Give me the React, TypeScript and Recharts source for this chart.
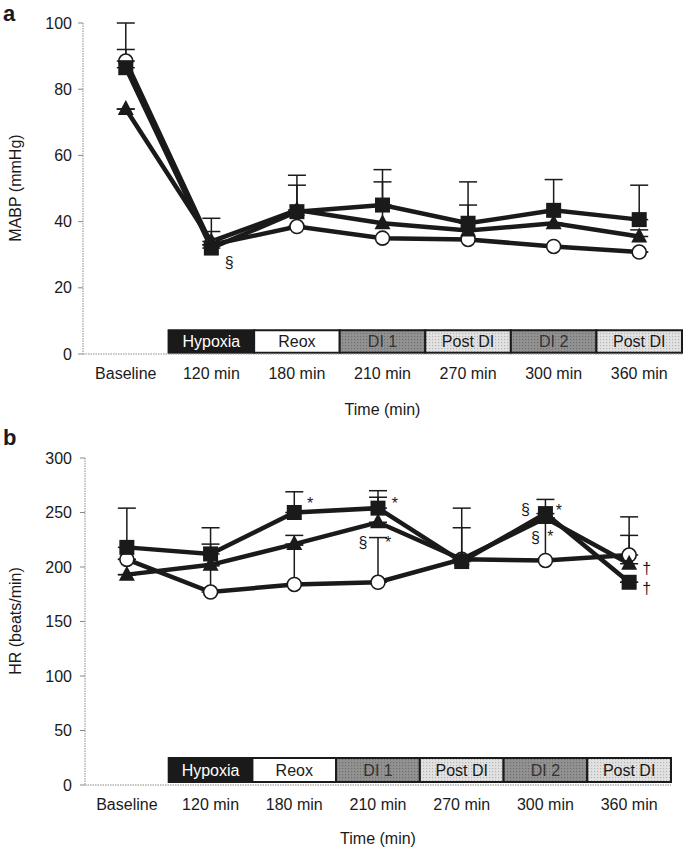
import React from 'react';
import { ComposedChart, Line, XAxis, YAxis, ErrorBar, ReferenceArea, ReferenceDot } from 'recharts';

const categories = ['Baseline', '120 min', '180 min', '210 min', '270 min', '300 min', '360 min'];
const categoryIndex = [0, 1, 2, 3, 4, 5, 6];
const boundaries = [-0.5, 0.5, 1.5, 2.5, 3.5, 4.5, 5.5, 6.5];

// Panel a: MABP (mmHg)
const mabpSquare = [86.5, 32, 43, 45, 39.5, 43.4, 40.6];
const mabpSquareErr = [13.5, 9, 11, 10.7, 12.5, 9.3, 10.4];
const mabpTriangle = [74, 34, 43.5, 39.5, 37.3, 39.5, 35.5];
const mabpTriangleErr = [0, 3, 7.5, 12.5, 7.7, 0, 2];
const mabpCircle = [88.5, 33, 38.5, 35, 34.6, 32.5, 30.8];
const mabpCircleErr = [3.5, 0, 0, 0, 0, 0, 0];

// Panel b: HR (beats/min)
const hrSquare = [218, 212, 250, 254, 205, 249, 186];
const hrSquareErr = [36, 24, 19, 16, 49, 13, 0];
const hrTriangle = [193, 202, 221, 241, 207, 245, 203];
const hrTriangleErr = [0, 19, 8, 23, 29, 0, 26];
const hrCircle = [207, 177, 184, 186, 207, 206, 211];
const hrCircleErr = [0, 24, 36, 41, 0, 39, 35];

const phaseLabels = ['Hypoxia', 'Reox', 'DI 1', 'Post DI', 'DI 2', 'Post DI'];
const phaseKinds = ['black', 'white', 'dark', 'light', 'dark', 'light'];

const mabpTicks = [0, 20, 40, 60, 80, 100];
const hrTicks = [0, 50, 100, 150, 200, 250, 300];

const annotA = [{ x: 1.21, y: 27.8, text: '§' }];
const annotB = [
  { x: 2.19, y: 258, text: '*' },
  { x: 3.2, y: 258, text: '*' },
  { x: 2.82, y: 223, text: '§' },
  { x: 3.12, y: 223, text: '*' },
  { x: 4.76, y: 253, text: '§' },
  { x: 5.16, y: 252, text: '*' },
  { x: 4.88, y: 227, text: '§' },
  { x: 5.06, y: 228, text: '*' },
  { x: 6.21, y: 199, text: '†' },
  { x: 6.21, y: 180, text: '†' },
];

const FONT = '"Liberation Sans", Arial, Helvetica, sans-serif';
const INK = '#1a1a1a';

function buildRows(sq: number[], sqE: number[], tr: number[], trE: number[], ci: number[], ciE: number[]) {
  return categoryIndex.map((i) => ({
    x: i,
    sq: sq[i],
    sqE: [0, sqE[i]],
    tr: tr[i],
    trE: [0, trE[i]],
    ci: ci[i],
    ciE: [0, ciE[i]],
  }));
}

const rowsA = buildRows(mabpSquare, mabpSquareErr, mabpTriangle, mabpTriangleErr, mabpCircle, mabpCircleErr);
const rowsB = buildRows(hrSquare, hrSquareErr, hrTriangle, hrTriangleErr, hrCircle, hrCircleErr);

const SquareDot = (p: any) => {
  if (p.cx == null || p.cy == null) return <g key={p.index} />;
  return <rect key={p.index} x={p.cx - 7.5} y={p.cy - 7.5} width={15} height={15} fill={INK} />;
};
const TriangleDot = (p: any) => {
  if (p.cx == null || p.cy == null) return <g key={p.index} />;
  const { cx, cy } = p;
  return <polygon key={p.index} points={`${cx},${cy - 9} ${cx + 8},${cy + 6} ${cx - 8},${cy + 6}`} fill={INK} />;
};
const CircleDot = (p: any) => {
  if (p.cx == null || p.cy == null) return <g key={p.index} />;
  return <circle key={p.index} cx={p.cx} cy={p.cy} r={7} fill="#fff" stroke={INK} strokeWidth={1.6} />;
};

type Cfg = {
  id: string;
  top: number;
  height: number;
  margin: { top: number; right: number; bottom: number; left: number };
  yWidth: number;
  yDomain: [number, number];
  yTicks: number[];
  tickMargin: number;
  lHeight: number;
  phaseY: [number, number];
  rows: any[];
  annotations: { x: number; y: number; text: string }[];
  letter: string;
  letterY: number;
  yLabel: string;
  yLabelY: number;
};

function phaseFill(kind: string, id: string) {
  if (kind === 'black') return INK;
  if (kind === 'white') return '#fff';
  if (kind === 'dark') return `url(#dark-${id})`;
  return `url(#light-${id})`;
}
function phaseText(kind: string) {
  if (kind === 'black') return '#fff';
  if (kind === 'dark') return '#333';
  return INK;
}

function Panel({ cfg }: { cfg: Cfg }) {
  return (
    <div style={{ position: 'absolute', left: 0, top: cfg.top, width: 685, height: cfg.height }}>
      <ComposedChart width={685} height={cfg.height} data={cfg.rows} margin={cfg.margin} style={{ fontFamily: FONT }}>
        <defs>
          <pattern id={`dark-${cfg.id}`} width="3" height="3" patternUnits="userSpaceOnUse">
            <rect width="3" height="3" fill="#929292" />
            <rect width="1.2" height="1.2" fill="#6e6e6e" />
          </pattern>
          <pattern id={`light-${cfg.id}`} width="3" height="3" patternUnits="userSpaceOnUse">
            <rect width="3" height="3" fill="#e2e2e2" />
            <rect width="1.2" height="1.2" fill="#b5b5b5" />
          </pattern>
        </defs>
        <text x={3} y={cfg.letterY} fontSize={22} fontWeight="bold" fill={INK} fontFamily={FONT}>
          {cfg.letter}
        </text>
        <text
          transform={`translate(15,${cfg.yLabelY}) rotate(-90)`}
          textAnchor="middle"
          dominantBaseline="central"
          fontSize={16}
          fill={INK}
          fontFamily={FONT}
        >
          {cfg.yLabel}
        </text>
        <XAxis
          xAxisId="b"
          dataKey="x"
          type="number"
          domain={[-0.5, 6.5]}
          ticks={boundaries}
          interval={0}
          tick={false}
          tickSize={4}
          height={6}
          axisLine={{ stroke: '#8a8a8a', strokeDasharray: '1.5 1' }}
          tickLine={{ stroke: '#777' }}
        />
        <XAxis
          xAxisId="l"
          dataKey="x"
          type="number"
          domain={[-0.5, 6.5]}
          ticks={categoryIndex}
          interval={0}
          tickFormatter={(v: number) => categories[v]}
          axisLine={false}
          tickLine={false}
          height={cfg.lHeight}
          tick={{ fill: INK, fontSize: 16, fontFamily: FONT }}
          label={{ value: 'Time (min)', position: 'insideBottom', offset: 5, fill: INK, fontSize: 16, fontFamily: FONT }}
        />
        <YAxis
          width={cfg.yWidth}
          type="number"
          domain={cfg.yDomain}
          ticks={cfg.yTicks}
          interval={0}
          tickSize={5}
          tickMargin={cfg.tickMargin}
          axisLine={{ stroke: '#8a8a8a', strokeDasharray: '1.5 1' }}
          tickLine={{ stroke: '#888' }}
          tick={{ fill: INK, fontSize: 16, fontFamily: FONT }}
        />
        {phaseLabels.map((lab, i) => (
          <ReferenceArea
            key={`ph-${i}`}
            xAxisId="b"
            x1={i + 0.5}
            x2={i + 1.5}
            y1={cfg.phaseY[0]}
            y2={cfg.phaseY[1]}
            fill={phaseFill(phaseKinds[i], cfg.id)}
            fillOpacity={1}
            stroke={INK}
            strokeWidth={2}
            label={{ value: lab, position: 'center', fill: phaseText(phaseKinds[i]), fontSize: 16, fontFamily: FONT }}
          />
        ))}
        <Line xAxisId="b" type="linear" dataKey="ci" stroke={INK} strokeWidth={4.5} dot={CircleDot} activeDot={false} isAnimationActive={false}>
          <ErrorBar dataKey="ciE" width={9} stroke={INK} strokeWidth={1.5} direction="y" />
        </Line>
        <Line xAxisId="b" type="linear" dataKey="tr" stroke={INK} strokeWidth={4.5} dot={TriangleDot} activeDot={false} isAnimationActive={false}>
          <ErrorBar dataKey="trE" width={9} stroke={INK} strokeWidth={1.5} direction="y" />
        </Line>
        <Line xAxisId="b" type="linear" dataKey="sq" stroke={INK} strokeWidth={4.5} dot={SquareDot} activeDot={false} isAnimationActive={false}>
          <ErrorBar dataKey="sqE" width={9} stroke={INK} strokeWidth={1.5} direction="y" />
        </Line>
        {cfg.annotations.map((a, i) => (
          <ReferenceDot
            key={`an-${i}`}
            xAxisId="b"
            x={a.x}
            y={a.y}
            r={0}
            fill="none"
            stroke="none"
            label={{ value: a.text, position: 'center', fill: INK, fontSize: 16, fontFamily: FONT }}
          />
        ))}
      </ComposedChart>
    </div>
  );
}

const cfgA: Cfg = {
  id: 'a',
  top: 0,
  height: 420,
  margin: { top: 23, right: 3, bottom: 0, left: 0 },
  yWidth: 83,
  yDomain: [0, 100],
  yTicks: mabpTicks,
  tickMargin: 6,
  lHeight: 60,
  phaseY: [0.4, 7.2],
  rows: rowsA,
  annotations: annotA,
  letter: 'a',
  letterY: 21,
  yLabel: 'MABP (mmHg)',
  yLabelY: 188,
};

const cfgB: Cfg = {
  id: 'b',
  top: 420,
  height: 429,
  margin: { top: 38, right: 14, bottom: 0, left: 0 },
  yWidth: 85,
  yDomain: [0, 300],
  yTicks: hrTicks,
  tickMargin: 8,
  lHeight: 58,
  phaseY: [2.8, 24.8],
  rows: rowsB,
  annotations: annotB,
  letter: 'b',
  letterY: 25,
  yLabel: 'HR (beats/min)',
  yLabelY: 201,
};

export default function App() {
  return (
    <div style={{ position: 'absolute', left: 0, top: 0, width: 685, height: 849, background: '#fff', fontFamily: FONT }}>
      <Panel cfg={cfgA} />
      <Panel cfg={cfgB} />
    </div>
  );
}
